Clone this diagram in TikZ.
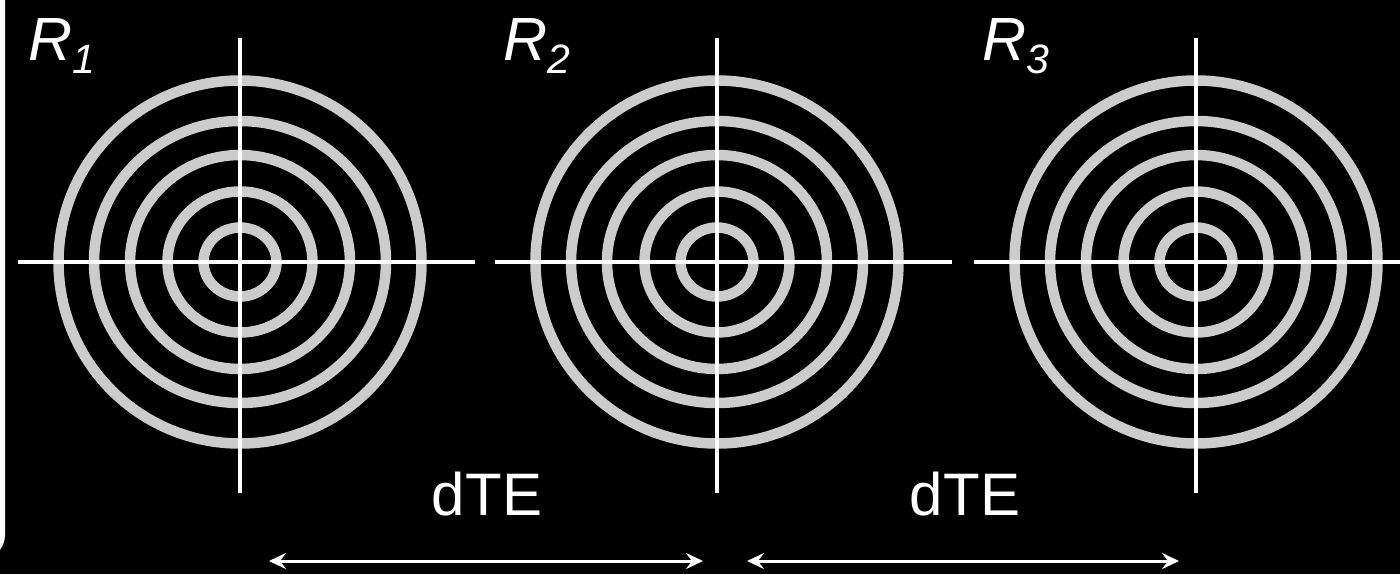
\documentclass[tikz,border=0pt]{standalone}
\usepackage{fontspec}
\setmainfont{Liberation Sans}
\usetikzlibrary{arrows.meta,calc}
\begin{document}
\begin{tikzpicture}[x=1pt,y=-1pt,
  ring/.style={draw={rgb,255:red,204;green,204;blue,204}, line width=10.5pt},
  vline/.style={draw=white, line width=4pt},
  hline/.style={draw=white, line width=3.7pt},
  dimarrow/.style={draw=white, line width=3pt, {Stealth[length=17pt,width=16pt,inset=6pt]}-{Stealth[length=17pt,width=16pt,inset=6pt]}},
  lbl/.style={text=white, inner sep=0pt, font=\fontsize{60}{70}\selectfont},
  rlbl/.style={text=white, inner sep=0pt, anchor=base west, font=\fontsize{61}{70}\selectfont\itshape}
]
\useasboundingbox (0,0) rectangle (1400,574);
\fill[black] (0,0) rectangle (1400,574);
% frame at left edge
\draw[white, line width=5pt, rounded corners=22pt] (-200,-60) rectangle (2.5,557);
% targets
\foreach \n/\cx in {1/240, 2/717, 3/1196} {
  \coordinate (c\n) at (\cx,262);
  \draw[ring] (c\n) ellipse [x radius=181.5, y radius=181.5];
  \draw[ring] (c\n) ellipse [x radius=146, y radius=141];
  \draw[ring] (c\n) ellipse [x radius=110, y radius=107];
  \draw[ring] (c\n) ellipse [x radius=72.5, y radius=70.5];
  \draw[ring] (c\n) ellipse [x radius=36.5, y radius=34.5];
  \coordinate (t\n) at ($(c\n)+(0,-224)$);
  \coordinate (b\n) at ($(c\n)+(0,231)$);
  \coordinate (l\n) at ($(c\n)+(-222,0)$);
  \coordinate (r\n) at ($(c\n)+(235,0)$);
  \draw[vline] (t\n) -- (b\n);
  \draw[hline] (l\n) -- (r\n);
}
% labels
\node[rlbl] (R1) at (28,60) {R\raisebox{-13pt}{\fontsize{41}{41}\selectfont 1}};
\node[rlbl] (R2) at (503,60) {R\raisebox{-13pt}{\fontsize{41}{41}\selectfont 2}};
\node[rlbl] (R3) at (982,60) {R\raisebox{-13pt}{\fontsize{41}{41}\selectfont 3}};
\node[lbl, anchor=base] (d1) at (487,515) {dTE};
\node[lbl, anchor=base] (d2) at (965,515) {dTE};
% arrows
\coordinate (a1s) at (269,561);
\coordinate (a1e) at (703,561);
\coordinate (a2s) at (747,561);
\coordinate (a2e) at (1179,561);
\draw[dimarrow] (a1s) -- (a1e);
\draw[dimarrow] (a2s) -- (a2e);
\end{tikzpicture}
\end{document}
